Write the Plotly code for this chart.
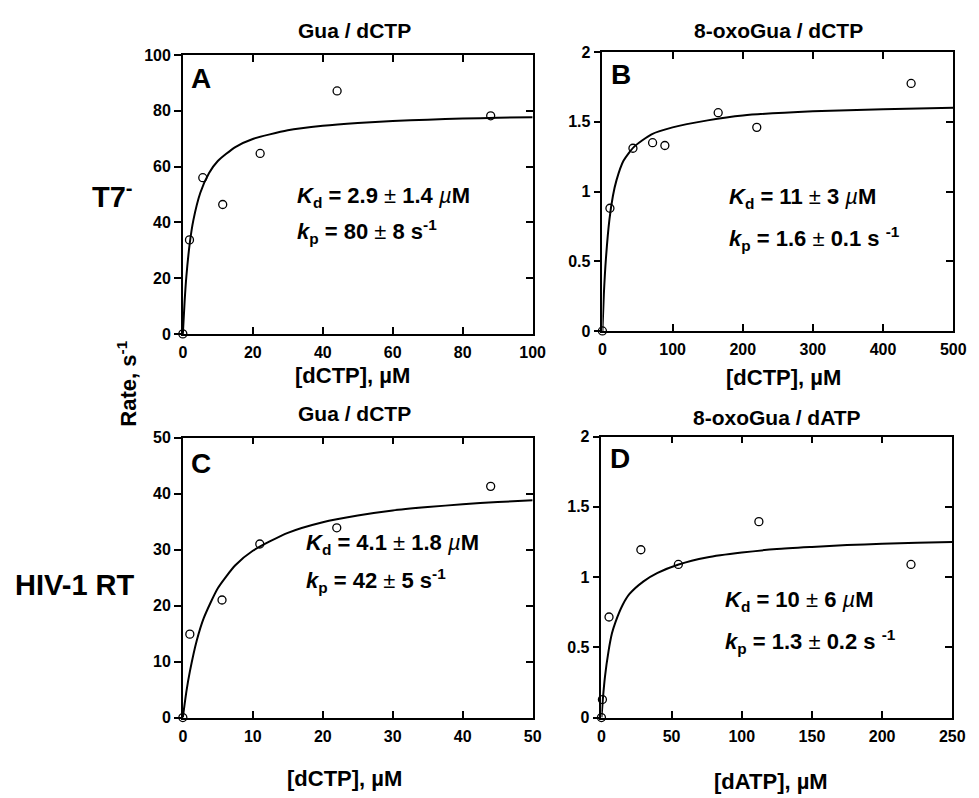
import plotly.graph_objects as go

W, H = 979, 798
FONT = "Liberation Sans, Arial, sans-serif"

# ---------------- data ----------------
# Panel A: T7- , Gua / dCTP
A_x = [0, 1.9, 5.7, 11.4, 22.1, 44.1, 88.0]
A_y = [0, 33.7, 56.0, 46.4, 64.7, 87.1, 78.2]
A_fit_x = [0, 0.5, 1, 2, 3, 5, 7.5, 10, 15, 20, 30, 40, 50, 60, 70, 80, 90, 100]
A_fit_y = [0, 11.5, 20.5, 32.7, 40.7, 50.6, 57.7, 62.0, 67.0, 69.9, 73.0, 74.6, 75.6, 76.3, 76.8, 77.2, 77.5, 77.7]

# Panel B: T7- , 8-oxoGua / dCTP
B_x = [0, 10.7, 43.5, 71.5, 89.0, 165.0, 220.0, 440.0]
B_y = [0, 0.88, 1.31, 1.35, 1.33, 1.565, 1.46, 1.775]
B_fit_x = [0, 2, 5, 10, 15, 20, 30, 45, 70, 100, 150, 200, 300, 400, 500]
B_fit_y = [0, 0.26, 0.52, 0.80, 0.97, 1.08, 1.22, 1.32, 1.41, 1.46, 1.51, 1.545, 1.575, 1.59, 1.60]

# Panel C: HIV-1 RT, Gua / dCTP
C_x = [0, 1.0, 5.6, 11.0, 22.0, 44.0]
C_y = [0, 14.9, 21.0, 31.0, 33.9, 41.3]
C_fit_x = [0, 0.5, 1, 2, 3, 5, 7.5, 10, 15, 20, 25, 30, 35, 40, 45, 50]
C_fit_y = [0, 4.6, 8.2, 13.8, 17.8, 23.1, 27.2, 29.8, 33.0, 34.9, 36.1, 37.0, 37.6, 38.1, 38.5, 38.8]

# Panel D: HIV-1 RT, 8-oxoGua / dATP
D_x = [0, 0.7, 5.4, 28.1, 54.8, 112.2, 220.6]
D_y = [0, 0.128, 0.716, 1.195, 1.09, 1.395, 1.09]
D_fit_x = [0, 1, 2.5, 5, 7.5, 10, 15, 20, 30, 40, 55, 75, 100, 125, 150, 175, 200, 225, 250]
D_fit_y = [0, 0.13, 0.29, 0.47, 0.60, 0.68, 0.80, 0.88, 0.97, 1.03, 1.09, 1.14, 1.175, 1.20, 1.215, 1.228, 1.237, 1.245, 1.25]

panel_titles = ["Gua / dCTP", "8-oxoGua / dCTP", "Gua / dCTP", "8-oxoGua / dATP"]
x_titles = ["[dCTP], µM", "[dCTP], µM", "[dCTP], µM", "[dATP], µM"]
letters = ["A", "B", "C", "D"]
kd_texts = ["2.9 ± 1.4", "11 ± 3", "4.1 ± 1.8", "10 ± 6"]
kp_texts = ["80 ± 8", "1.6 ± 0.1", "42 ± 5", "1.3 ± 0.2"]
x_ranges = [[0, 100], [0, 500], [0, 50], [0, 250]]
y_ranges = [[0, 100], [0, 2], [0, 50], [0, 2]]
x_dticks = [20, 100, 10, 50]
y_dticks = [20, 0.5, 10, 0.5]

# ---------------- layout geometry (pixels) ----------------
dom_px = [  # (left, right, top, bottom)
    (182, 538, 48, 333),
    (609, 966, 45, 330),
    (182, 538, 439, 725),
    (608, 965, 438, 725),
]
title_px = [(357, 23), (788, 23), (357, 414), (787, 418)]
xtitle_px = [(355, 375), (793, 378), (347, 787), (781, 790)]
letter_px = [(200, 72), (628, 68), (200, 465), (627, 460)]
# text block positions in data units (left x, centre y of line 1, centre y of line 2)
kd_pos = [(32, 49, 36.6), (178, 0.95, 0.66), (17.3, 31, 24.5), (86.7, 0.83, 0.545)]


def px_x(p):
    return p / W


def px_y(p):
    return 1 - p / H


fig = go.Figure()
series = [(A_x, A_y, A_fit_x, A_fit_y), (B_x, B_y, B_fit_x, B_fit_y),
          (C_x, C_y, C_fit_x, C_fit_y), (D_x, D_y, D_fit_x, D_fit_y)]

bold = dict(family=FONT, color="black", weight="bold")
annotations = []


def paper_text(text, xy, size, **kw):
    annotations.append(dict(text=text, x=px_x(xy[0]), y=px_y(xy[1]), xref="paper", yref="paper",
                            xanchor="center", yanchor="middle", showarrow=False,
                            font=dict(size=size, **bold), **kw))


for i, (px_, py_, fx, fy) in enumerate(series):
    n = i + 1
    xa = "x" if n == 1 else f"x{n}"
    ya = "y" if n == 1 else f"y{n}"
    ya_over = f"y{n + 4}"
    l, r, t, b = dom_px[i]
    axis_common = dict(showgrid=False, zeroline=False, showline=True, linecolor="black",
                       linewidth=1.5, tickcolor="black", tickwidth=1.5, ticklen=7,
                       tickfont=dict(family=FONT, size=16, color="black", weight="bold"))
    fig.layout[f"xaxis{'' if n == 1 else n}"] = dict(
        domain=[px_x(l), px_x(r)], anchor=ya, range=x_ranges[i], dtick=x_dticks[i], tick0=0,
        ticks="inside", mirror="ticks", ticklabelstandoff=3, **axis_common)
    fig.layout[f"yaxis{'' if n == 1 else n}"] = dict(
        domain=[px_y(b), px_y(t)], anchor=xa, range=y_ranges[i], dtick=y_dticks[i], tick0=0,
        ticks="outside", mirror=True, **axis_common)
    fig.layout[f"yaxis{n + 4}"] = dict(
        overlaying=ya, side="right", anchor=xa, range=y_ranges[i], dtick=y_dticks[i], tick0=0,
        ticks="inside", ticklen=7, tickwidth=1.5, tickcolor="black", showticklabels=False,
        showgrid=False, zeroline=False, showline=False)

    fig.add_trace(go.Scatter(x=fx, y=fy, mode="lines", xaxis=xa, yaxis=ya_over,
                             line=dict(color="black", width=2, shape="spline", smoothing=0.6),
                             showlegend=False, hoverinfo="skip"))
    fig.add_trace(go.Scatter(x=px_, y=py_, mode="markers", xaxis=xa, yaxis=ya,
                             marker=dict(symbol="circle-open", size=8, color="black",
                                         line=dict(width=1.3, color="black")),
                             cliponaxis=False, showlegend=False))

    paper_text(panel_titles[i], title_px[i], 21)
    paper_text(x_titles[i], xtitle_px[i], 22)
    paper_text(letters[i], letter_px[i], 28)

    kx, k1, k2 = kd_pos[i]
    kd_val = kd_texts[i].replace("±", "<span style='font-weight:normal'>±</span>")
    kp_val = kp_texts[i].replace("±", "<span style='font-weight:normal'>±</span>")
    annotations.append(dict(
        text=f"<i>K</i><sub>d</sub> = {kd_val} <span style='font-weight:normal'><i>µ</i></span>M",
        x=kx, y=k1, xref=xa, yref=ya, xanchor="left", yanchor="middle", showarrow=False,
        font=dict(size=22, **bold)))
    sp = " " if i in (1, 3) else ""
    annotations.append(dict(
        text=f"<i>k</i><sub>p</sub> = {kp_val} s{sp}<sup>-1</sup>",
        x=kx, y=k2, xref=xa, yref=ya, xanchor="left", yanchor="middle", showarrow=False,
        font=dict(size=22, **bold)))

paper_text("T7<sup>-</sup>", (110, 191), 29)
paper_text("HIV-1 RT", (72, 590), 29)
paper_text("Rate, s<sup>-1</sup>", (125, 384), 22, textangle=-90)

fig.update_layout(width=W, height=H, margin=dict(l=0, r=0, t=0, b=0),
                  paper_bgcolor="white", plot_bgcolor="white", annotations=annotations,
                  showlegend=False)

fig.write_html("out.html", config={"displayModeBar": False},
               post_script="document.body.style.margin='0px';"
                           "document.body.style.overflow='hidden';")
